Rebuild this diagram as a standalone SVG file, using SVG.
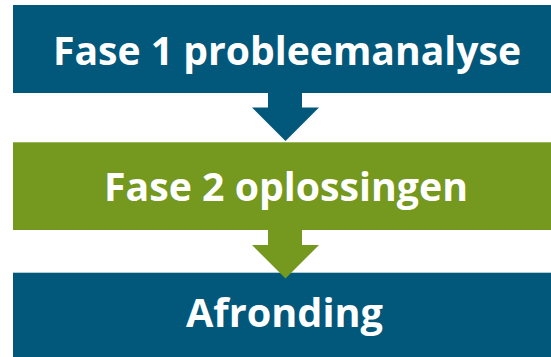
<svg xmlns="http://www.w3.org/2000/svg" width="551" height="357" viewBox="0 0 551 357">
<style>
.blue{fill:#01587B}
.green{fill:#75981E}
.lbl{font-family:"Open Sans","Liberation Sans",sans-serif;font-weight:700;font-size:40px;fill:#ffffff;text-anchor:middle}
</style>
<rect width="551" height="357" fill="#ffffff"/>
<g id="fase1">
<rect class="blue" x="13" y="5" width="538" height="88"/>
<text class="lbl" x="287" y="64.5" textLength="468" lengthAdjust="spacingAndGlyphs">Fase 1 probleemanalyse</text>
</g>
<g id="fase2">
<rect class="green" x="13" y="142.3" width="538" height="87.7"/>
<text class="lbl" x="286" y="201" textLength="364" lengthAdjust="spacingAndGlyphs">Fase 2 oplossingen</text>
</g>
<g id="afronding">
<rect class="blue" x="13" y="272.7" width="538" height="84.3"/>
<text class="lbl" x="284.5" y="326.5" textLength="197" lengthAdjust="spacingAndGlyphs">Afronding</text>
</g>
<g id="connectors">
<polygon class="blue" points="268,92 302,92 302,107.5 319,107.5 285.5,141 252,107.5 268,107.5"/>
<polygon class="green" points="268,229 302,229 302,245 319,245 285.5,278.5 252,245 268,245"/>
</g>
</svg>
